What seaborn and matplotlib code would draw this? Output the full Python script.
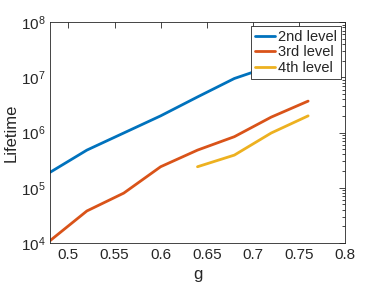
import numpy as np
import pandas as pd
import seaborn as sns
import matplotlib.pyplot as plt

g = [0.48, 0.52, 0.56, 0.60, 0.64, 0.68, 0.72, 0.76]
level2 = [1.9e5, 4.8e5, 9.8e5, 2.0e6, 4.4e6, 9.5e6, 1.6e7, 2.8e7]
level3 = [1.1e4, 3.8e4, 8.0e4, 2.4e5, 4.8e5, 8.4e5, 1.9e6, 3.7e6]
g4 = [0.64, 0.68, 0.72, 0.76]
level4 = [2.4e5, 3.9e5, 9.8e5, 2.0e6]

df = pd.concat([
    pd.DataFrame({"g": g, "Lifetime": level2, "level": "2nd level"}),
    pd.DataFrame({"g": g, "Lifetime": level3, "level": "3rd level"}),
    pd.DataFrame({"g": g4, "Lifetime": level4, "level": "4th level"}),
])

sns.set_style("white")
plt.rcParams["font.family"] = ["Liberation Sans", "DejaVu Sans"]

fig = plt.figure(figsize=(3.82, 2.86), dpi=100)
ax = fig.add_axes([50 / 382, 43 / 286, 295 / 382, 221 / 286])
palette = ["#0072BD", "#D95319", "#EDB120"]
sns.lineplot(data=df, x="g", y="Lifetime", hue="level", palette=palette,
             linewidth=2, ax=ax)
ax.set_yscale("log")
ax.set_xlim(0.48, 0.8)
ax.set_ylim(1e4, 1e8)
ax.set_xticks([0.5, 0.55, 0.6, 0.65, 0.7, 0.75, 0.8])
ax.set_xticklabels(["0.5", "0.55", "0.6", "0.65", "0.7", "0.75", "0.8"])
ax.set_xlabel("g", fontsize=12, color="#262626")
ax.set_ylabel("Lifetime", fontsize=12, color="#262626", labelpad=1)
ax.tick_params(which="both", direction="in", top=True, right=True,
               labelsize=11, colors="#262626", width=0.6)
ax.tick_params(which="major", length=4)
ax.tick_params(which="minor", length=2)
for s in ax.spines.values():
    s.set_color("#262626")
    s.set_linewidth(0.6)
leg = ax.legend(loc="upper right", fontsize=10.5, frameon=True, fancybox=False,
                framealpha=1, borderpad=0.25, handlelength=1.4,
                handletextpad=0.2, labelspacing=0.1, borderaxespad=0.3)
leg.get_frame().set_edgecolor("#262626")
leg.get_frame().set_linewidth(0.6)
fig.savefig("out.png", dpi=100)
